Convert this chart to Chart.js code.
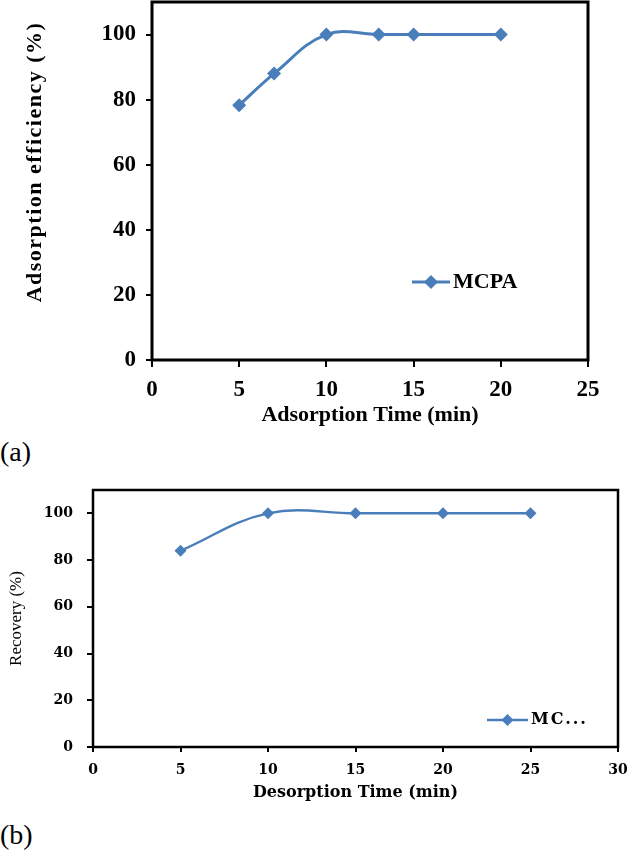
<!DOCTYPE html>
<html><head><meta charset="utf-8">
<script src="https://cdn.jsdelivr.net/npm/chart.js@4.4.0/dist/chart.umd.min.js"></script>
<style>
html,body{margin:0;padding:0;background:#fff;width:632px;height:853px;overflow:hidden;}
.box{position:absolute;left:0;width:632px;}
.lbl{position:absolute;left:0;font-family:'Liberation Serif',serif;font-size:28px;color:#000;line-height:1;}
</style></head><body>
<div class="box" style="top:0;height:432px"><canvas id="cA"></canvas></div>
<div class="lbl" style="top:438px">(a)</div>
<div class="box" style="top:470px;height:340px"><canvas id="cB"></canvas></div>
<div class="lbl" style="top:821px">(b)</div>
<script>
// ---- data ----
const adsorptionTime = [5, 7, 10, 13, 15, 20];
const adsorptionEfficiency = [78.3, 88, 100, 100, 100, 100];
const desorptionTime = [5, 10, 15, 20, 25];
const recovery = [84, 100, 100, 100, 100];
const yTickValues = [0, 20, 40, 60, 80, 100];
const seriesName = 'MCPA';
const legendTextB = 'MC...';
const titlesA = {x: 'Adsorption Time (min)', y: 'Adsorption efficiency (%)'};
const titlesB = {x: 'Desorption Time (min)', y: 'Recovery (%)'};

const BLUE = '#4a7ebb';

const framePlugin = {
  id: 'frame',
  afterDraw(chart, args, opts) {
    const {ctx, chartArea: a} = chart;
    ctx.save();
    ctx.strokeStyle = '#000';
    ctx.lineWidth = opts.width || 3;
    ctx.strokeRect(a.left, a.top, a.right - a.left, a.bottom - a.top);
    ctx.restore();
  }
};

const legendPlugin = {
  id: 'inLegend',
  afterDraw(chart, args, opts) {
    if (!opts || !opts.text) return;
    const {ctx} = chart;
    const ds = chart.data.datasets[0];
    ctx.save();
    ctx.strokeStyle = ds.borderColor;
    ctx.lineWidth = ds.borderWidth;
    ctx.beginPath();
    ctx.moveTo(opts.x1, opts.y);
    ctx.lineTo(opts.x2, opts.y);
    ctx.stroke();
    const mx = (opts.x1 + opts.x2) / 2, r = ds.pointRadius;
    ctx.fillStyle = ds.pointBackgroundColor;
    ctx.beginPath();
    ctx.moveTo(mx, opts.y - r); ctx.lineTo(mx + r, opts.y); ctx.lineTo(mx, opts.y + r); ctx.lineTo(mx - r, opts.y);
    ctx.closePath(); ctx.fill();
    ctx.fillStyle = '#000';
    ctx.font = opts.font;
    if (opts.spacing) ctx.letterSpacing = opts.spacing;
    ctx.textBaseline = 'middle';
    ctx.textAlign = 'left';
    ctx.fillText(opts.text, opts.x2 + 3, opts.y);
    ctx.restore();
  }
};

const yTitlePlugin = {
  id: 'yTitle',
  afterDraw(chart, args, opts) {
    if (!opts || !opts.text) return;
    const {ctx} = chart;
    ctx.save();
    ctx.translate(opts.x, opts.y);
    ctx.rotate(-Math.PI / 2);
    ctx.font = opts.font;
    if (opts.spacing) ctx.letterSpacing = opts.spacing;
    ctx.fillStyle = '#000';
    ctx.textAlign = 'center';
    ctx.textBaseline = 'middle';
    ctx.fillText(opts.text, 0, 0);
    ctx.restore();
  }
};

function fixTicks(scale) { scale.ticks = yTickValues.map(v => ({value: v})); }
function noPad(s) { s.paddingTop = 0; s.paddingBottom = 0; s.paddingLeft = 0; s.paddingRight = 0; }

const fontA = {family: 'Liberation Serif', weight: 'bold', size: 23};
new Chart(document.getElementById('cA'), {
  type: 'line',
  data: {datasets: [{
    label: seriesName,
    data: adsorptionTime.map((x, i) => ({x, y: adsorptionEfficiency[i]})),
    borderColor: BLUE, backgroundColor: BLUE, borderWidth: 3,
    pointStyle: 'rectRot', pointRadius: 7, pointBackgroundColor: BLUE, pointBorderColor: BLUE, pointBorderWidth: 0,
    tension: 0.4, fill: false
  }]},
  options: {
    responsive: true, maintainAspectRatio: false, animation: false,
    layout: {autoPadding: false, padding: {top: 2, right: 44, left: 0, bottom: 0}},
    plugins: {
      legend: {display: false}, tooltip: {enabled: false},
      frame: {width: 3},
      inLegend: {text: seriesName, x1: 412, x2: 450, y: 282, font: 'bold 22px "Liberation Serif"'},
      yTitle: {text: titlesA.y, x: 35, y: 162, font: 'bold 22px "Liberation Serif"', spacing: '1.5px'}
    },
    scales: {
      x: {
        type: 'linear', min: 0, max: 25,
        afterFit: s => { s.height = 72; noPad(s); },
        ticks: {stepSize: 5, color: '#000', font: fontA, padding: 9, maxRotation: 0},
        grid: {drawOnChartArea: false, color: '#000', tickLength: 7, lineWidth: 2},
        border: {display: false},
        title: {display: true, text: titlesA.x, color: '#000', font: {family: 'Liberation Serif', weight: 'bold', size: 22}, padding: {top: 0, bottom: 3}}
      },
      y: {
        min: 0, max: 110,
        afterFit: s => { s.width = 152; noPad(s); },
        afterBuildTicks: fixTicks,
        ticks: {color: '#000', font: fontA, padding: 10},
        grid: {drawOnChartArea: false, color: '#000', tickLength: 6, lineWidth: 2},
        border: {display: false},
        title: {display: false}
      }
    }
  },
  plugins: [framePlugin, legendPlugin, yTitlePlugin]
});

const fontB = {family: 'DejaVu Serif', weight: 'bold', size: 14};
new Chart(document.getElementById('cB'), {
  type: 'line',
  data: {datasets: [{
    label: seriesName,
    data: desorptionTime.map((x, i) => ({x, y: recovery[i]})),
    borderColor: BLUE, backgroundColor: BLUE, borderWidth: 2.5,
    pointStyle: 'rectRot', pointRadius: 6, pointBackgroundColor: BLUE, pointBorderColor: BLUE, pointBorderWidth: 0,
    tension: 0.4, fill: false
  }]},
  options: {
    responsive: true, maintainAspectRatio: false, animation: false,
    layout: {autoPadding: false, padding: {top: 20, right: 14, left: 0, bottom: 0}},
    plugins: {
      legend: {display: false}, tooltip: {enabled: false},
      frame: {width: 2.5},
      inLegend: {text: legendTextB, x1: 487, x2: 528, y: 250, font: 'bold 16px "DejaVu Serif"', spacing: '2px'}
    },
    scales: {
      x: {
        type: 'linear', min: 0, max: 30,
        afterFit: s => { s.height = 63; noPad(s); },
        ticks: {stepSize: 5, color: '#000', font: fontB, padding: 10, maxRotation: 0},
        grid: {drawOnChartArea: false, color: '#000', tickLength: 5, lineWidth: 2},
        border: {display: false},
        title: {display: true, text: titlesB.x, color: '#000', font: {family: 'DejaVu Serif', weight: 'bold', size: 16}, padding: {top: 0, bottom: 8}}
      },
      y: {
        min: 0, max: 110,
        afterFit: s => { s.width = 93; noPad(s); },
        afterBuildTicks: fixTicks,
        ticks: {color: '#000', font: fontB, padding: 14},
        grid: {drawOnChartArea: false, color: '#000', tickLength: 6, lineWidth: 2},
        border: {display: false},
        title: {display: true, text: titlesB.y, color: '#000', font: {family: 'Liberation Serif', weight: 'normal', size: 17}, padding: {top: 6, bottom: 0}}
      }
    }
  },
  plugins: [framePlugin, legendPlugin]
});
</script>
</body></html>
